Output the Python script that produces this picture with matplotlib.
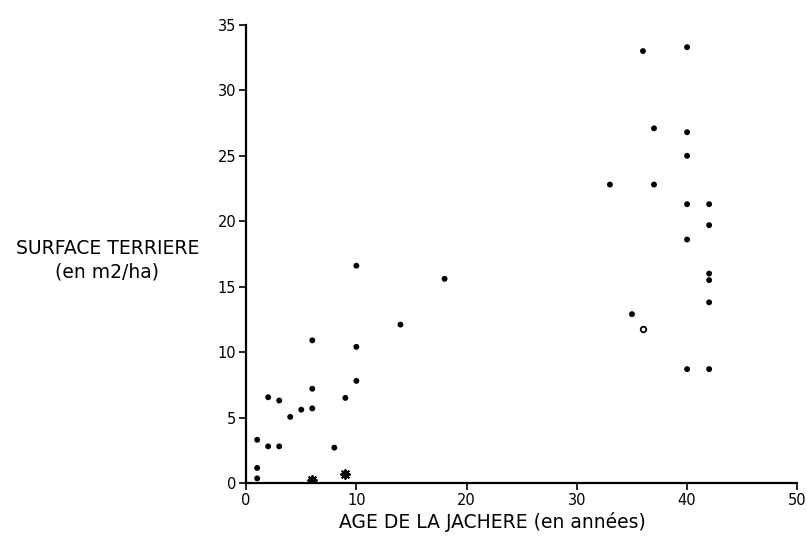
import matplotlib
matplotlib.use("Agg")
import matplotlib.pyplot as plt

# age de la jachere (annees) / surface terriere (m2/ha)
age = [1, 1, 1, 2, 2, 3, 3, 4, 5, 6, 6, 6, 8, 9, 10, 10, 10, 14, 18,
       33, 35, 36, 37, 37, 40, 40, 40, 40, 40, 40, 42, 42, 42, 42, 42, 42]
surf = [0.35, 1.15, 3.3, 6.55, 2.8, 6.3, 2.8, 5.05, 5.6, 10.9, 7.2, 5.7, 2.7,
        6.5, 10.4, 7.8, 16.6, 12.1, 15.6,
        22.8, 12.9, 33.0, 27.1, 22.8, 33.3, 26.8, 25.0, 21.3, 18.6, 8.7,
        21.3, 19.7, 16.0, 15.5, 13.8, 8.7]

# points particuliers
age_star = [6, 9]
surf_star = [0.2, 0.7]
age_open = [36]
surf_open = [11.75]

fig = plt.figure(figsize=(8.07, 5.37), dpi=100)
ax = fig.add_axes([0.305, 0.1006, 0.683, 0.853])

ax.scatter(age, surf, s=18, c="black", edgecolors="none", zorder=3)
ax.scatter(age_star, surf_star, s=40, marker=(8, 2, 0), c="black",
           linewidths=1.4, zorder=3)
ax.scatter(age_open, surf_open, s=16, facecolors="white", edgecolors="black",
           linewidths=1.3, zorder=3)

ax.set_xlim(0, 50)
ax.set_ylim(0, 35)
ax.set_xticks(range(0, 51, 10))
ax.set_yticks(range(0, 36, 5))
ax.spines["top"].set_visible(False)
ax.spines["right"].set_visible(False)
ax.spines["left"].set_linewidth(1.6)
ax.spines["bottom"].set_linewidth(1.6)
ax.tick_params(direction="out", length=5, width=1.2, labelsize=10.5, pad=2)

fig.text(0.61, 0.028, "AGE DE LA JACHERE (en années)", ha="center",
         va="center", fontsize=13.5)
fig.text(0.133, 0.515, "SURFACE TERRIERE\n(en m2/ha)", ha="center",
         va="center", fontsize=13.5, linespacing=1.3)

fig.savefig("out.png", dpi=100)
